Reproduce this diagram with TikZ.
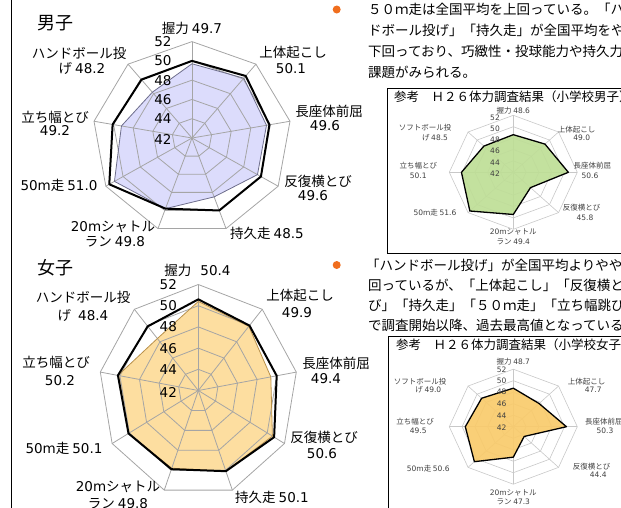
\documentclass[tikz,border=0pt]{standalone}
\usepackage{fontspec}
\setmainfont{Noto Sans CJK JP}
\newfontfamily\dvf{DejaVu Sans}
\newcommand\nm[1]{{\dvf #1}}
\definecolor{mfill}{RGB}{220,220,252}
\definecolor{mline}{RGB}{110,110,140}
\definecolor{ffill}{RGB}{253,222,160}
\definecolor{fline}{RGB}{185,145,75}
\definecolor{gfill}{RGB}{190,222,150}
\definecolor{yfill}{RGB}{249,203,107}
\definecolor{gridc}{RGB}{165,165,165}
\definecolor{sgridc}{RGB}{200,200,200}
\definecolor{bul}{RGB}{240,110,30}
\tikzset{
 lbl/.style={font=\fontsize{13.5}{15}\selectfont,inner sep=0pt},
 big/.style={font=\fontsize{18}{20}\selectfont,inner sep=0pt},
 body/.style={font=\fontsize{13.5}{15}\selectfont,inner sep=0pt,anchor=west},
 ttl/.style={font=\fontsize{12.5}{14}\selectfont,inner sep=0pt,anchor=west},
 slbl/.style={font=\fontsize{7.5}{9}\selectfont,inner sep=0pt,text=black!75},
 gridline/.style={draw=gridc,line width=0.8pt,line join=miter},
 sgridline/.style={draw=sgridc,line width=0.6pt,line join=miter},
 avgline/.style={draw=black,line width=2pt,line join=round},
 mpoly/.style={fill=mfill},
 moutl/.style={draw=mline,line width=0.8pt},
 fpoly/.style={fill=ffill},
 foutl/.style={draw=fline,line width=0.8pt},
 spoly/.style={draw=black,line width=1.3pt,line join=round},
 refbox/.style={draw=black,line width=0.9pt},
}
\begin{document}
\begin{tikzpicture}[x=1pt,y=-1pt]
\useasboundingbox (0,0) rectangle (621,507);
\clip (0,0) rectangle (621,507);

% left border
\draw[line width=1.2pt] (11.5,-2) -- (11.5,510);

% ===================== MALE MAIN CHART =====================
\foreach \v [count=\i from 0] in {49.7,50.1,49.6,49.6,48.5,49.8,51.0,49.2,48.2}
  \coordinate (m\i) at ({192+99.5*(\v-42)/10*sin(40*\i)},{138-96.4*(\v-42)/10*cos(40*\i)});
\foreach \v [count=\i from 0] in {50.0,50.4,49.9,50.0,50.0,49.8,51.6,50.1,49.9}
  \coordinate (ma\i) at ({192+99.5*(\v-42)/10*sin(40*\i)},{138-96.4*(\v-42)/10*cos(40*\i)});
\fill[mpoly] (m0) \foreach \i in {1,...,8}{ -- (m\i)} -- cycle;
\foreach \k in {1,...,5}
  \draw[gridline] plot[samples at={0,40,...,320},variable=\t] ({192+99.5*\k/5*sin(\t)},{138-96.4*\k/5*cos(\t)}) -- cycle;
\foreach \t in {0,40,...,320}
  \draw[gridline] (192,138) -- ({192+99.5*sin(\t)},{138-96.4*cos(\t)});
\draw[moutl] (m0) \foreach \i in {1,...,8}{ -- (m\i)} -- cycle;
\foreach \s/\y in {52/41.7,50/60.9,48/80.2,46/99.4,44/118.7,42/139.5}
  \node[lbl] (ms\s) at (163,\y) {\nm{\s}};
\draw[avgline] (ma0) \foreach \i in {1,...,8}{ -- (ma\i)} -- cycle;

\node[big] (mtitle) at (55,23) {男子};
\node[lbl] (mg) at (192,28) {握力 \nm{49.7}};
\node[lbl] (mh1) at (79,53) {ハンドボール投};
\node[lbl] (mh2) at (82,68) {げ \nm{48.2}};
\node[lbl] (mu1) at (293,52) {上体起こし};
\node[lbl] (mu2) at (291,69) {\nm{50.1}};
\node[lbl] (mc1) at (329,111) {長座体前屈};
\node[lbl] (mc2) at (325,126) {\nm{49.6}};
\node[lbl] (mr1) at (318,181) {反復横とび};
\node[lbl] (mr2) at (313,196) {\nm{49.6}};
\node[lbl] (mj) at (267,233) {持久走 \nm{48.5}};
\node[lbl] (ms1) at (113,227) {\nm{20m}シャトル};
\node[lbl] (ms2) at (115,242) {ラン \nm{49.8}};
\node[lbl] (m50) at (59,185) {\nm{50m}走 \nm{51.0}};
\node[lbl] (mt1) at (55,117) {立ち幅とび};
\node[lbl] (mt2) at (55,131) {\nm{49.2}};

% ===================== FEMALE MAIN CHART =====================
\foreach \v [count=\i from 0] in {50.4,49.9,49.4,50.6,50.1,49.8,50.1,50.2,48.4}
  \coordinate (f\i) at ({198.3+99.5*(\v-42)/10*sin(40*\i)},{390.5-106*(\v-42)/10*cos(40*\i)});
\foreach \v [count=\i from 0] in {50.6,50.0,50.0,50.8,50.1,49.9,50.1,50.2,49.9}
  \coordinate (fa\i) at ({198.3+99.5*(\v-42)/10*sin(40*\i)},{390.5-106*(\v-42)/10*cos(40*\i)});
\fill[fpoly] (f0) \foreach \i in {1,...,8}{ -- (f\i)} -- cycle;
\foreach \k in {1,...,5}
  \draw[gridline] plot[samples at={0,40,...,320},variable=\t] ({198.3+99.5*\k/5*sin(\t)},{390.5-106*\k/5*cos(\t)}) -- cycle;
\foreach \t in {0,40,...,320}
  \draw[gridline] (198.3,390.5) -- ({198.3+99.5*sin(\t)},{390.5-106*cos(\t)});
\draw[foutl] (f0) \foreach \i in {1,...,8}{ -- (f\i)} -- cycle;
\foreach \s/\y in {52/284.3,50/305.5,48/326.7,46/348.3,44/369.5,42/392.7}
  \node[lbl] (fs\s) at (168.3,\y) {\nm{\s}};
\draw[avgline] (fa0) \foreach \i in {1,...,8}{ -- (fa\i)} -- cycle;

\node[big] (ftitle) at (55,268) {女子};
\node[lbl] (fg) at (197.5,270) {握力\hspace{9pt}\nm{50.4}};
\node[lbl] (fh1) at (83,297) {ハンドボール投};
\node[lbl] (fh2) at (83,315) {げ\hspace{7pt}\nm{48.4}};
\node[lbl] (fu1) at (300,295) {上体起こし};
\node[lbl] (fu2) at (297,313) {\nm{49.9}};
\node[lbl] (fc1) at (336,363) {長座体前屈};
\node[lbl] (fc2) at (326,379) {\nm{49.4}};
\node[lbl] (fr1) at (324,437) {反復横とび};
\node[lbl] (fr2) at (322,454) {\nm{50.6}};
\node[lbl] (fj) at (272,497.5) {持久走 \nm{50.1}};
\node[lbl] (fs1) at (118,487) {\nm{20m}シャトル};
\node[lbl] (fs2) at (118,503.5) {ラン \nm{49.8}};
\node[lbl] (f50) at (64,448.5) {\nm{50m}走 \nm{50.1}};
\node[lbl] (ft1) at (56,362) {立ち幅とび};
\node[lbl] (ft2) at (60,381) {\nm{50.2}};

% ===================== RIGHT TEXT =====================
\fill[bul] (336.7,9.5) circle (4pt);
\node[body] (mt1x) at (368,9.5) {５０ｍ走は全国平均を上回っている。「ハン};
\node[body] (mt2x) at (368,30) {ドボール投げ」「持久走」が全国平均をやや};
\node[body] (mt3x) at (368,51) {下回っており、巧緻性・投球能力や持久力に};
\node[body] (mt4x) at (368,72) {課題がみられる。};

\fill[bul] (336.7,265) circle (4pt);
\node[body] (ft1x) at (366,265) {「ハンドボール投げ」が全国平均よりやや下};
\node[body] (ft2x) at (368,285) {回っているが、「上体起こし」「反復横とび};
\node[body] (ft3x) at (368,305) {び」「持久走」「５０ｍ走」「立ち幅跳び」};
\node[body] (ft4x) at (368,325) {で調査開始以降、過去最高値となっている。};

% ===================== REFERENCE BOX (MALE) =====================
\draw[refbox] (630,88) -- (387,88) -- (387,253) -- (630,253);
\node[ttl] (bt1) at (394,97) {参考　Ｈ２６体力調査結果（小学校男子）};
\foreach \v [count=\i from 0] in {48.6,49.0,50.6,45.8,49.4,51.6,50.1,48.5}
  \coordinate (g\i) at ({513.3+64*(\v-42)/10*sin(45*\i)},{172.3-57*(\v-42)/10*cos(45*\i)});
\foreach \k in {1,...,5}
  \draw[sgridline] plot[samples at={0,45,...,315},variable=\t] ({513.3+64*\k/5*sin(\t)},{172.3-57*\k/5*cos(\t)}) -- cycle;
\foreach \t in {0,45,...,315}
  \draw[sgridline] (513.3,172.3) -- ({513.3+64*sin(\t)},{172.3-57*cos(\t)});
\filldraw[spoly,fill=gfill,fill opacity=0.92] (g0) \foreach \i in {1,...,7}{ -- (g\i)} -- cycle;
\foreach \s/\y in {52/117.3,50/128.3,48/140,46/150.7,44/162.3,42/173.3}
  \node[slbl] (gs\s) at (495,\y) {\nm{\s}};
\node[slbl] (gl0) at (513.3,110.5) {握力 \nm{48.6}};
\node[slbl] (gl1) at (425,127.7) {ソフトボール投};
\node[slbl] (gl2) at (435,137.7) {げ \nm{48.5}};
\node[slbl] (gl3) at (576.7,129.3) {上体起こし};
\node[slbl] (gl4) at (581.7,137.7) {\nm{49.0}};
\node[slbl] (gl5) at (418.3,165.7) {立ち幅とび};
\node[slbl] (gl6) at (418.3,175.7) {\nm{50.1}};
\node[slbl,anchor=west] (gl7) at (573.3,165.7) {長座体前屈};
\node[slbl] (gl8) at (590,175.7) {\nm{50.6}};
\node[slbl] (gl9) at (435,212.7) {\nm{50m}走 \nm{51.6}};
\node[slbl] (gl10) at (581.7,207.7) {反復横とび};
\node[slbl] (gl11) at (585,217.7) {\nm{45.8}};
\node[slbl] (gl12) at (513.3,231.7) {\nm{20m}シャトル};
\node[slbl] (gl13) at (513.3,241.5) {ラン \nm{49.4}};

% ===================== REFERENCE BOX (FEMALE) =====================
\draw[refbox] (630,336) -- (388,336) -- (388,512);
\node[ttl] (bt2) at (396,345) {参考　Ｈ２６体力調査結果（小学校女子）};
\foreach \v [count=\i from 0] in {48.7,47.7,50.3,44.4,47.3,50.6,49.5,49.0}
  \coordinate (y\i) at ({513.3+64*(\v-42)/10*sin(45*\i)},{426.7-57.5*(\v-42)/10*cos(45*\i)});
\foreach \k in {1,...,5}
  \draw[sgridline] plot[samples at={0,45,...,315},variable=\t] ({513.3+64*\k/5*sin(\t)},{426.7-57.5*\k/5*cos(\t)}) -- cycle;
\foreach \t in {0,45,...,315}
  \draw[sgridline] (513.3,426.7) -- ({513.3+64*sin(\t)},{426.7-57.5*cos(\t)});
\filldraw[spoly,fill=yfill,fill opacity=0.92] (y0) \foreach \i in {1,...,7}{ -- (y\i)} -- cycle;
\foreach \s/\y in {52/370,50/380.7,48/391.7,46/404,44/416,42/427.7}
  \node[slbl] (ys\s) at (501.7,\y) {\nm{\s}};
\node[slbl] (yl0) at (513.3,361.8) {握力 \nm{48.7}};
\node[slbl] (yl1) at (420,381.7) {ソフトボール投};
\node[slbl] (yl2) at (428.3,390) {げ \nm{49.0}};
\node[slbl] (yl3) at (586.7,381.7) {上体起こし};
\node[slbl] (yl4) at (593.3,390) {\nm{47.7}};
\node[slbl] (yl5) at (415,421.7) {立ち幅とび};
\node[slbl] (yl6) at (418.3,430.7) {\nm{49.5}};
\node[slbl,anchor=west] (yl7) at (585,421.7) {長座体前屈};
\node[slbl] (yl8) at (605,430.7) {\nm{50.3}};
\node[slbl] (yl9) at (428.3,468.3) {\nm{50m}走 \nm{50.6}};
\node[slbl] (yl10) at (591.7,466.7) {反復横とび};
\node[slbl] (yl11) at (598.3,475) {\nm{44.4}};
\node[slbl] (yl12) at (513.3,492.7) {\nm{20m}シャトル};
\node[slbl] (yl13) at (513.3,501.7) {ラン \nm{47.3}};
\end{tikzpicture}
\end{document}
